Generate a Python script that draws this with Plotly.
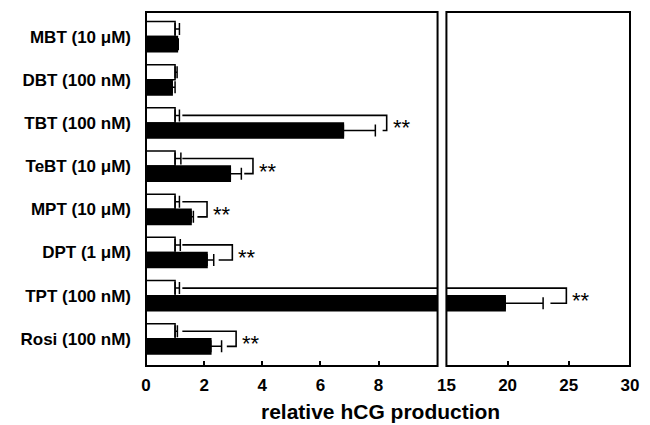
import plotly.graph_objects as go

categories = ["MBT (10 μM)", "DBT (100 nM)", "TBT (100 nM)", "TeBT (10 μM)",
              "MPT (10 μM)", "DPT (1 μM)", "TPT (100 nM)", "Rosi (100 nM)"]
control_vals = [1.0, 1.0, 1.0, 1.0, 1.0, 1.0, 1.0, 1.0]
control_err = [0.15, 0.07, 0.15, 0.2, 0.15, 0.18, 0.15, 0.08]
treated_vals = [1.08, 0.9, 6.79, 2.9, 1.55, 2.1, 19.8, 2.23]
treated_err = [0.03, 0.1, 1.1, 0.38, 0.08, 0.23, 3.1, 0.37]

# significance brackets: category index, bracket x, lower-arm start
sig_index = [2, 3, 4, 5, 6, 7]
sig_x = [8.28, 3.68, 2.1, 2.97, 24.8, 3.1]
sig_arm = [8.14, 3.38, 1.77, 2.5, 23.5, 2.78]
sig_start = 1.25
sig_label = "**"

left_ticks = [0, 2, 4, 6, 8]
right_ticks = [15, 20, 25, 30]

FONT = "Liberation Sans"
idx = list(range(len(categories)))
half = 0.175

fig = go.Figure()
for xa in ["x", "x2"]:
    fig.add_trace(go.Bar(
        y=idx, x=control_vals, orientation="h", xaxis=xa, yaxis="y",
        marker=dict(color="white", line=dict(color="black", width=1.5)),
        error_x=dict(type="data", array=control_err, arrayminus=[0]*8, symmetric=False,
                     color="black", thickness=1.5, width=6),
        showlegend=False, hoverinfo="skip"))
    fig.add_trace(go.Bar(
        y=idx, x=treated_vals, orientation="h", xaxis=xa, yaxis="y",
        marker=dict(color="black", line=dict(color="black", width=1.5)),
        error_x=dict(type="data", array=treated_err, arrayminus=[0]*8, symmetric=False,
                     color="black", thickness=1.5, width=6),
        showlegend=False, hoverinfo="skip"))
    for i, bx, arm in zip(sig_index, sig_x, sig_arm):
        fig.add_trace(go.Scatter(
            x=[sig_start, bx, bx, arm], y=[i - half, i - half, i + half, i + half],
            mode="lines", line=dict(color="black", width=1.6), xaxis=xa, yaxis="y",
            showlegend=False, hoverinfo="skip"))

for i, bx in zip(sig_index, sig_x):
    fig.add_annotation(x=bx, y=i, xref="x2" if bx > 15 else "x", yref="y",
                       text=sig_label, showarrow=False, xanchor="left", yanchor="middle",
                       xshift=4, yshift=-5, font=dict(family=FONT, size=22, color="black"))

fig.add_annotation(x=0.485, y=-0.09, xref="paper", yref="paper", text="relative hCG production",
                   showarrow=False, xanchor="center", yanchor="top",
                   font=dict(family=FONT, size=21, color="black", weight="bold"))

for xr in ["x domain", "x2 domain"]:
    fig.add_shape(type="rect", xref=xr, yref="y domain", x0=0, x1=1, y0=0, y1=1,
                  line=dict(color="black", width=2), layer="above")

tickfont = dict(family=FONT, size=17, color="black", weight="bold")
fig.update_layout(
    width=650, height=425, margin=dict(l=146, r=11, t=12, b=59),
    paper_bgcolor="white", plot_bgcolor="white",
    barmode="group", bargap=0.3, bargroupgap=0, showlegend=False,
    xaxis=dict(domain=[0, 0.6024], range=[0, 10.03], tickvals=left_ticks,
               ticks="inside", ticklen=5, tickwidth=2, tickcolor="black", ticklabelstandoff=7,
               showgrid=False, zeroline=False, showline=False, tickfont=tickfont, anchor="y"),
    xaxis2=dict(domain=[0.6207, 1], range=[15, 30], tickvals=right_ticks,
                ticks="inside", ticklen=5, tickwidth=2, tickcolor="black", ticklabelstandoff=7,
                showgrid=False, zeroline=False, showline=False, tickfont=tickfont, anchor="y"),
    yaxis=dict(range=[7.63, -0.57], tickvals=idx, ticktext=categories, ticks="",
               showgrid=False, zeroline=False, showline=False, ticklabelstandoff=14,
               tickfont=dict(family=FONT, size=17, color="black", weight="bold")),
)

fig.write_html("out.html", config={"displayModeBar": False},
               post_script="document.body.style.margin='0';")
